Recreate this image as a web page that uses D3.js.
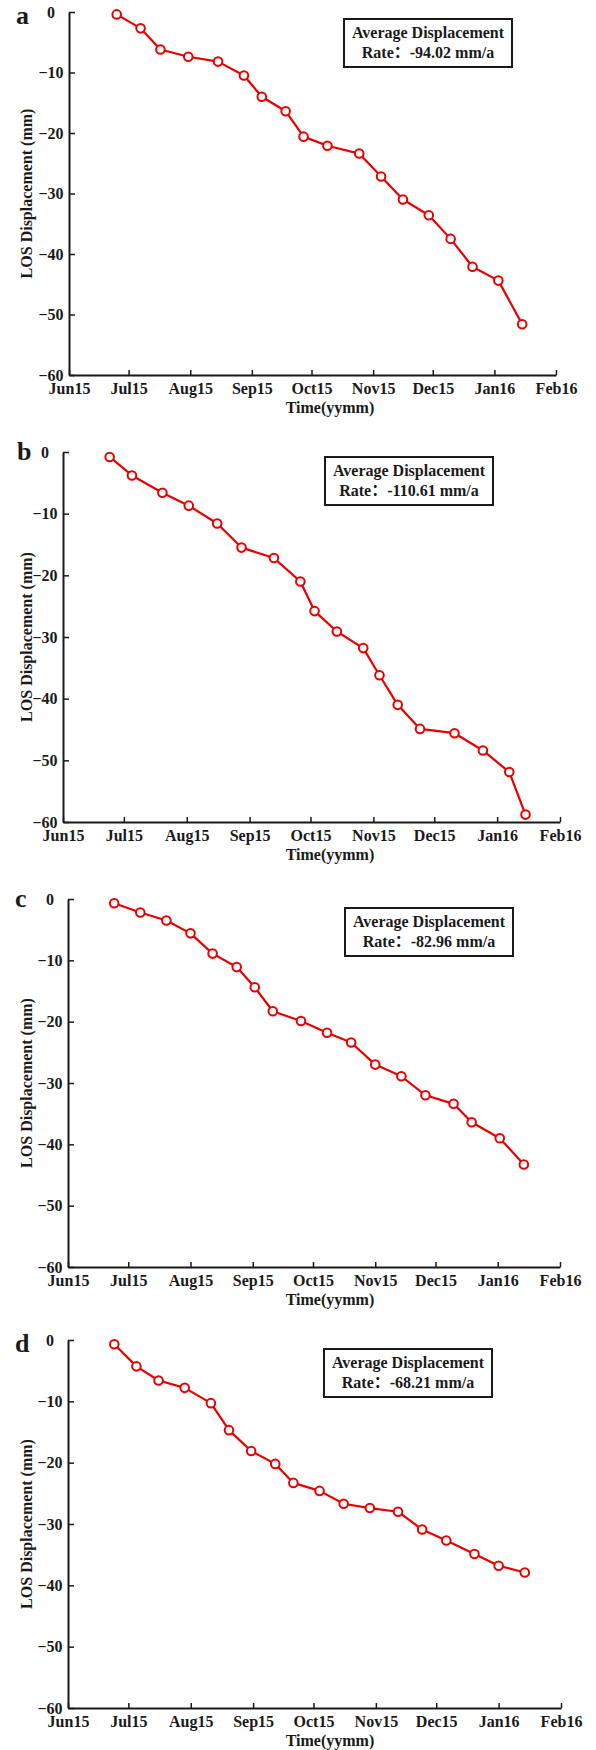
<!DOCTYPE html>
<html>
<head>
<meta charset="utf-8">
<script src="https://cdn.jsdelivr.net/npm/d3@7"></script>
<style>
  body { margin: 0; background: #fff; }
  svg text { font-family: "Liberation Serif", "Noto Sans CJK SC", "Times New Roman", serif; font-weight: bold; fill: #1a1a1a; }
</style>
</head>
<body>
<div id="chart"></div>
<script>
// panel letters and the rate written in each box
const panelNames = ["a", "b", "c", "d"]
const rates = ["-94.02", "-110.61", "-82.96", "-68.21"]

// acquisition dates
const datesA = ["2015-06-25","2015-07-07","2015-07-17","2015-07-31","2015-08-15","2015-08-28","2015-09-06","2015-09-18","2015-09-27","2015-10-09","2015-10-25","2015-11-05","2015-11-16","2015-11-29","2015-12-10","2015-12-21","2016-01-03","2016-01-15"]
const datesB = ["2015-06-24","2015-07-05","2015-07-20","2015-08-02","2015-08-16","2015-08-28","2015-09-13","2015-09-26","2015-10-03","2015-10-14","2015-10-27","2015-11-04","2015-11-13","2015-11-24","2015-12-11","2015-12-25","2016-01-07","2016-01-15"]
const datesC = ["2015-06-24","2015-07-07","2015-07-20","2015-08-01","2015-08-12","2015-08-24","2015-09-02","2015-09-11","2015-09-25","2015-10-08","2015-10-20","2015-11-01","2015-11-14","2015-11-26","2015-12-10","2015-12-19","2016-01-02","2016-01-14"]
const datesD = ["2015-06-24","2015-07-05","2015-07-16","2015-07-29","2015-08-11","2015-08-20","2015-08-31","2015-09-12","2015-09-21","2015-10-04","2015-10-16","2015-10-29","2015-11-12","2015-11-24","2015-12-06","2015-12-20","2016-01-01","2016-01-14"]

// LOS displacement (mm)
const valuesA = [-0.4, -2.7, -6.2, -7.4, -8.2, -10.5, -14.0, -16.4, -20.6, -22.1, -23.4, -27.2, -31.0, -33.6, -37.5, -42.1, -44.4, -51.6]
const valuesB = [-0.8, -3.8, -6.6, -8.7, -11.6, -15.5, -17.2, -21.0, -25.8, -29.1, -31.8, -36.2, -41.0, -44.9, -45.6, -48.4, -51.9, -58.8]
const valuesC = [-0.7, -2.2, -3.5, -5.6, -8.9, -11.1, -14.4, -18.3, -19.9, -21.8, -23.4, -27.0, -28.9, -32.0, -33.4, -36.4, -39.0, -43.3]
const valuesD = [-0.7, -4.3, -6.6, -7.8, -10.3, -14.7, -18.1, -20.2, -23.3, -24.6, -26.7, -27.4, -28.0, -30.9, -32.7, -34.9, -36.8, -37.9]

const yTicks = [0, -10, -20, -30, -40, -50, -60]
const xStart = "2015-06-01"
const xEnd = "2016-02-01"

const allDates = [datesA, datesB, datesC, datesD]
const allValues = [valuesA, valuesB, valuesC, valuesD]

// page layout of each panel
const layout = [
  {left: 69, right: 556, top: 12, bottom: 375, boxX: 344, boxY: 19, letterX: 16, letterY: 24},
  {left: 63, right: 560, top: 452, bottom: 822, boxX: 325, boxY: 457, letterX: 17, letterY: 460},
  {left: 68, right: 560, top: 899, bottom: 1267, boxX: 345, boxY: 908, letterX: 15, letterY: 907},
  {left: 68, right: 561, top: 1340, bottom: 1708, boxX: 324, boxY: 1349, letterX: 15, letterY: 1352}
]

const width = 596
const height = 1750
const red = "#e60000"
const ink = "#1a1a1a"
const parse = d3.timeParse("%Y-%m-%d")

const svg = d3.select("#chart")
  .append("svg")
  .attr("width", width)
  .attr("height", height)

panelNames.forEach((name, p) => {
  const L = layout[p]
  const data = allDates[p].map((d, i) => ({date: parse(d), value: allValues[p][i]}))

  const x = d3.scaleTime().domain([parse(xStart), parse(xEnd)]).range([L.left, L.right])
  const y = d3.scaleLinear().domain([-60, 0]).range([L.bottom, L.top])

  const g = svg.append("g")

  // x axis, ticks pointing inward
  const xAxis = g.append("g")
    .attr("transform", `translate(0,${L.bottom})`)
    .call(d3.axisBottom(x)
      .ticks(d3.timeMonth.every(1))
      .tickFormat(d3.timeFormat("%b%y"))
      .tickSizeInner(-5)
      .tickSizeOuter(0)
      .tickPadding(8))
  xAxis.select(".domain").attr("stroke", ink).attr("stroke-width", 2)
  xAxis.selectAll(".tick line").attr("stroke", ink).attr("stroke-width", 1.5)
  xAxis.selectAll(".tick text").attr("font-size", 16).attr("fill", ink)

  // y axis
  const yAxis = g.append("g")
    .attr("transform", `translate(${L.left},0)`)
    .call(d3.axisLeft(y)
      .tickValues(yTicks)
      .tickSizeInner(-6)
      .tickSizeOuter(0))
  yAxis.select(".domain").attr("stroke", ink).attr("stroke-width", 2)
  yAxis.selectAll(".tick line").attr("stroke", ink).attr("stroke-width", 1.5)
  yAxis.selectAll(".tick text")
    .attr("font-size", 16)
    .attr("fill", ink)
    .attr("text-anchor", "middle")
    .attr("x", -18)

  // axis titles
  g.append("text")
    .attr("transform", `translate(26,${(L.top + L.bottom) / 2}) rotate(-90)`)
    .attr("text-anchor", "middle")
    .attr("dy", "0.35em")
    .attr("font-size", 16)
    .text("LOS Displacement (mm)")

  g.append("text")
    .attr("x", 330)
    .attr("y", L.bottom + 38)
    .attr("text-anchor", "middle")
    .attr("font-size", 16)
    .text("Time(yymm)")

  // panel letter
  g.append("text")
    .attr("x", L.letterX)
    .attr("y", L.letterY)
    .attr("font-size", 26)
    .text(name)

  // rate box
  g.append("rect")
    .attr("x", L.boxX)
    .attr("y", L.boxY)
    .attr("width", 168)
    .attr("height", 48)
    .attr("fill", "#fff")
    .attr("stroke", ink)
    .attr("stroke-width", 2)
  g.append("text")
    .attr("x", L.boxX + 84)
    .attr("y", L.boxY + 19)
    .attr("text-anchor", "middle")
    .attr("font-size", 16)
    .text("Average Displacement")
  g.append("text")
    .attr("x", L.boxX + 84)
    .attr("y", L.boxY + 39)
    .attr("text-anchor", "middle")
    .attr("font-size", 16)
    .attr("lang", "zh-CN")
    .text(`Rate：${rates[p]} mm/a`)

  // series
  const line = d3.line().x(d => x(d.date)).y(d => y(d.value))
  g.append("path")
    .datum(data)
    .attr("d", line)
    .attr("fill", "none")
    .attr("stroke", red)
    .attr("stroke-width", 2.2)
    .attr("stroke-linejoin", "round")

  g.selectAll("circle")
    .data(data)
    .enter()
    .append("circle")
    .attr("cx", d => x(d.date))
    .attr("cy", d => y(d.value))
    .attr("r", 4.3)
    .attr("fill", "#fff")
    .attr("stroke", red)
    .attr("stroke-width", 2)
})
</script>
</body>
</html>
